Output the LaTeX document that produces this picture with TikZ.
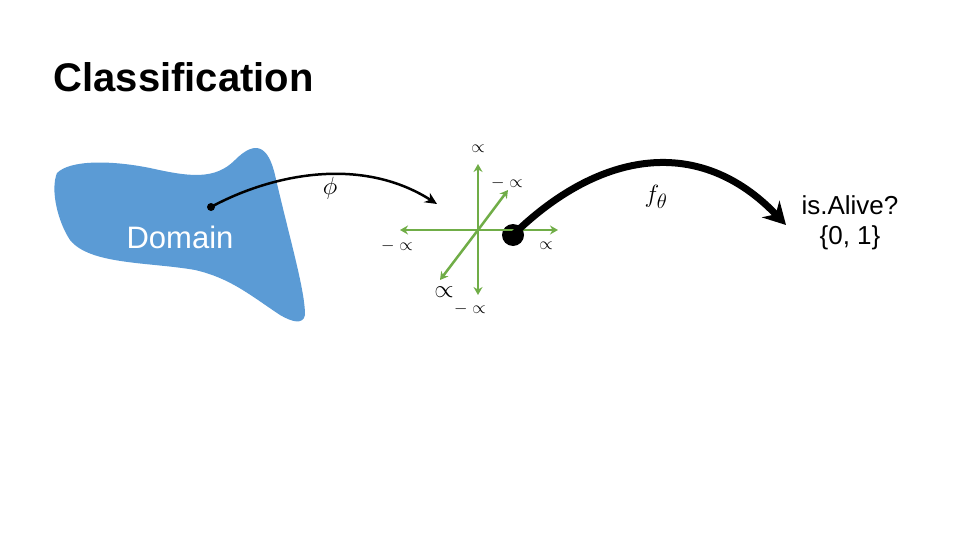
\documentclass[tikz,border=0pt]{standalone}
\usepackage{fontspec}
\setmainfont{Liberation Sans}
\usetikzlibrary{arrows.meta}
\definecolor{blobblue}{RGB}{91,155,213}
\definecolor{axisgreen}{RGB}{112,173,71}
\begin{document}
\begin{tikzpicture} [
    x=1pt, y=-1pt,
    axis/.style     = { draw=axisgreen, line width=2.5pt, -{Stealth[length=8pt,width=9pt]} },
    lbl/.style      = { inner sep=0pt, font=\fontsize{18}{18}\selectfont },
    map/.style      = { draw, line width=2.5pt, -{Stealth[length=12pt,width=11pt]} },
  ]
  \useasboundingbox (0,0) rectangle (960,540);

  % title and domain
  \node[anchor=west, font=\fontsize{40}{40}\selectfont\bfseries] (title) at (50,77) {Classification};
  \fill[blobblue] (57,173) .. controls (70,160) and (110,160) .. (150,168)
     .. controls (190,177) and (215,180) .. (235,160)
     .. controls (255,140) and (268,145) .. (275,175)
     .. controls (290,240) and (305,290) .. (305,315)
     .. controls (303,325) and (292,322) .. (280,315)
     .. controls (250,295) and (230,278) .. (195,270)
     .. controls (150,262) and (90,265) .. (70,240)
     .. controls (58,222) and (50,190) .. (57,173);
  \node[text=white, font=\fontsize{31}{31}\selectfont] (domain) at (180,237) {Domain};

  % points
  \fill (211,207) circle (4pt);
  \coordinate (x) at (211,207);
  \coordinate (o) at (478,230);
  \fill (513,235) circle (11pt);
  \coordinate (fx) at (513,235);
  \coordinate (phiend) at (437,204);
  \coordinate (yend) at (786,225);

  % axes
  \path[axis] (o) -- (478,164);
  \path[axis] (o) -- (478,295);
  \path[axis] (o) -- (400,230);
  \path[axis] (o) -- (558,230);
  \path[axis] (o) -- (508,190);
  \path[axis] (o) -- (440,280);
  \node[lbl] (ytop) at (478,149) {$\propto$};
  \node[lbl] (ybot) at (470,309) {$-\propto$};
  \node[lbl] (xleft) at (397,246) {$-\propto$};
  \node[lbl] (xright) at (546,246) {$\propto$};
  \node[lbl] (zback) at (507,183) {$-\propto$};
  \node[lbl, font=\fontsize{30}{30}\selectfont] (zfront) at (444,292) {$\propto$};

  % maps
  \draw[map] (x) .. controls (270,175) and (360,155) .. (phiend);
  \node[lbl, font=\fontsize{24}{24}\selectfont] (phi) at (330,188) {$\phi$};
  \draw[map, line width=7pt, -{Stealth[length=22pt,width=24pt]}] (fx) .. controls (600,150) and (700,135) .. (yend);
  \node[lbl, font=\fontsize{28}{28}\selectfont] (f) at (656,197) {$f_\theta$};
  \node[align=center, font=\fontsize{26}{30}\selectfont] (out) at (850,223) {is.Alive?\\{\{0, 1\}}};
\end{tikzpicture}
\end{document}
